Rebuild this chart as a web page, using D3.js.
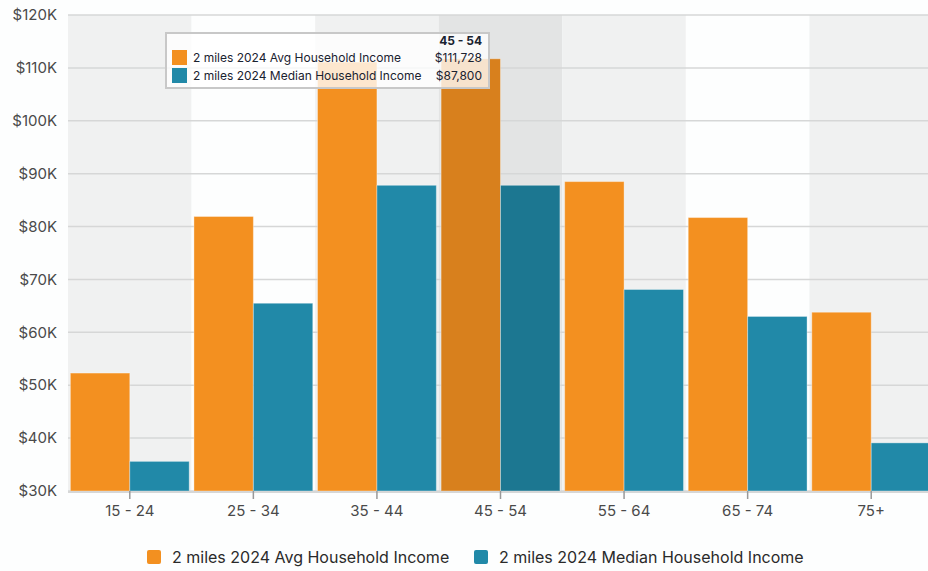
<!DOCTYPE html>
<html><head><meta charset="utf-8">
<script src="https://cdn.jsdelivr.net/npm/d3@7"></script>
<style>
body{margin:0;background:#fdfefe;font-family:Inter,"Noto Sans",sans-serif;}
svg{display:block;}
</style></head><body>
<svg id="chart" width="928" height="571"></svg>
<script>
const categories = ["15 - 24","25 - 34","35 - 44","45 - 54","55 - 64","65 - 74","75+"];
const seriesNames = ["2 miles 2024 Avg Household Income","2 miles 2024 Median Household Income"];
const avgIncome = [52300, 81900, 111100, 111728, 88500, 81700, 63800];
const medianIncome = [35600, 65500, 87800, 87800, 68100, 63000, 39100];
const yTicks = [30000,40000,50000,60000,70000,80000,90000,100000,110000,120000];
const colors = ["#f39020","#2189a8"];
const hoverColors = ["#d8801d","#1c7791"];
const hoverIndex = 3;

const svg = d3.select("#chart");
const m = {left:68, right:928, bandRight:933, top:15, bottom:491};
const x = d3.scaleBand().domain(categories).range([m.left, m.bandRight]).paddingInner(0).paddingOuter(0);
const x1 = d3.scaleBand().domain([0,1]).range([0, x.bandwidth()]).paddingOuter(0.04).paddingInner(0);
const y = d3.scaleLinear().domain([30000,120000]).range([m.bottom, m.top]);

// band backgrounds
svg.append("g").selectAll("rect").data(categories).join("rect")
  .attr("x", d=>x(d)).attr("y", m.top).attr("width", x.bandwidth()).attr("height", m.bottom-m.top)
  .attr("fill", (d,i)=> i===hoverIndex ? "#e3e4e4" : (i%2===0 ? "#f0f1f1" : "#fdfefe"));

// gridlines
svg.append("g").selectAll("line").data(yTicks).join("line")
  .attr("x1", m.left).attr("x2", m.right).attr("y1", d=>y(d)).attr("y2", d=>y(d))
  .attr("stroke", "#d6d7d7").attr("stroke-width", 1.5);

// y labels
const fmt = d => "$" + (d/1000) + "K";
svg.append("g").selectAll("text").data(yTicks).join("text")
  .attr("x", 57).attr("y", d=>y(d)).attr("dy","0.35em").attr("text-anchor","end")
  .attr("font-size", 15).attr("fill", "#4a4a4a").text(fmt);

// bars
const series = [avgIncome, medianIncome];
const g = svg.append("g");
categories.forEach((c,i)=>{
  series.forEach((s,j)=>{
    g.append("rect")
      .attr("x", x(c)+x1(j)).attr("width", x1.bandwidth())
      .attr("y", y(s[i])).attr("height", y(30000)-y(s[i]))
      .attr("fill", i===hoverIndex ? hoverColors[j] : colors[j])
      .attr("stroke", "rgba(255,255,255,0.35)").attr("stroke-width", 1);
  });
});

// x axis
svg.append("line").attr("x1", m.left).attr("x2", m.right).attr("y1", m.bottom+1).attr("y2", m.bottom+1)
  .attr("stroke","#d6d7d7").attr("stroke-width",2);
svg.append("g").selectAll("line").data(categories).join("line")
  .attr("x1", d=>x(d)+x.bandwidth()/2).attr("x2", d=>x(d)+x.bandwidth()/2)
  .attr("y1", m.bottom).attr("y2", m.bottom+8).attr("stroke","#999").attr("stroke-width",1.5);
svg.append("g").selectAll("text").data(categories).join("text")
  .attr("x", d=>x(d)+x.bandwidth()/2).attr("y", 511).attr("dy","0.35em").attr("text-anchor","middle")
  .attr("font-size", 15).attr("fill","#4a4a4a").text(d=>d);

// legend
const legX = [147, 474];
seriesNames.forEach((n,j)=>{
  svg.append("rect").attr("x", legX[j]).attr("y", 550).attr("width", 14).attr("height", 14).attr("rx", 2)
    .attr("fill", colors[j]);
  svg.append("text").attr("x", legX[j]+25).attr("y", 557).attr("dy","0.35em")
    .attr("font-size", 16).attr("fill","#2a2a2a").text(n);
});

// tooltip
const tt = svg.append("g");
tt.append("rect").attr("x", 166).attr("y", 33).attr("width", 323).attr("height", 55)
  .attr("fill","rgba(255,255,255,0.78)").attr("stroke","#c8c8c8").attr("stroke-width",2);
tt.append("text").attr("x", 482).attr("y", 41).attr("dy","0.35em").attr("text-anchor","end")
  .attr("font-size", 12).attr("font-weight","bold").attr("fill","#1a2230").text(categories[hoverIndex]);
const vfmt = d3.format("$,");
series.forEach((s,j)=>{
  const yy = 58 + j*18;
  tt.append("rect").attr("x", 172).attr("y", yy-8).attr("width", 15).attr("height", 15).attr("fill", colors[j]);
  tt.append("text").attr("x", 193).attr("y", yy).attr("dy","0.35em").attr("font-size", 12).attr("fill","#1a2230").text(seriesNames[j]);
  tt.append("text").attr("x", 482).attr("y", yy).attr("dy","0.35em").attr("text-anchor","end")
    .attr("font-size", 12).attr("fill","#1a2230").text(vfmt(s[hoverIndex]));
});
</script>
</body></html>
